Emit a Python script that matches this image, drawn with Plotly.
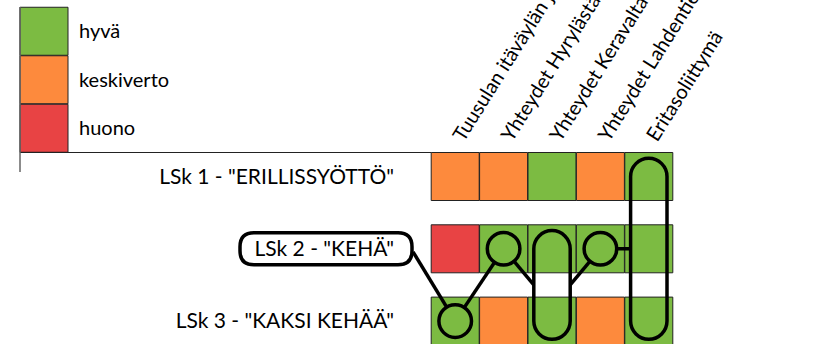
import plotly.graph_objects as go

W, H = 821, 344

# ---------------- data ----------------
ratings = ["hyvä", "keskiverto", "huono"]
rating_colors = ["#7CBB42", "#FD8A3D", "#E84344"]

columns = [
    "Tuusulan itäväylän jatke",
    "Yhteydet Hyrylästä",
    "Yhteydet Keravalta",
    "Yhteydet Lahdentieltä",
    "Eritasoliittymä",
]
rows = ['LSk 1 - "ERILLISSYÖTTÖ"', 'LSk 2 - "KEHÄ"', 'LSk 3 - "KAKSI KEHÄÄ"']

lsk1 = ["keskiverto", "keskiverto", "hyvä", "keskiverto", "hyvä"]
lsk2 = ["huono", "hyvä", "hyvä", "hyvä", "hyvä"]
lsk3 = ["hyvä", "keskiverto", "hyvä", "keskiverto", "hyvä"]
grid = [lsk1, lsk2, lsk3]

# selected path through the matrix: circles (col,row), pills (col,row_from,row_to)
circles = [(0, 2), (1, 1), (3, 1)]
pills = [(2, 1, 2), (4, 0, 2)]
highlight_row = 1

# ---------------- layout geometry ----------------
GX0, GX1 = 431, 673          # grid left/right in px
GTOP = 152.5                 # grid top in px
KX = (GX1 - GX0) / len(columns)
KY = 72.3                    # px per row
CELL = 48
ROW0 = GTOP + CELL / 2       # centre of first row in px

FONT = "Lato"
LW = 3.5
R_CIRC = 16.3
R_PILL = 18.2

color_of = dict(zip(ratings, rating_colors))


def px2paper_x(px):
    return px / W


def px2paper_y(py):
    return 1 - py / H


fig = go.Figure()

# matrix cells
xs, ys, cs = [], [], []
for j, row in enumerate(grid):
    for i, val in enumerate(row):
        xs.append(i)
        ys.append(j)
        cs.append(color_of[val])
fig.add_trace(go.Scatter(
    x=xs, y=ys, mode="markers", cliponaxis=False, hoverinfo="skip",
    marker=dict(symbol="square", size=CELL, color=cs,
                line=dict(color="#222222", width=1)),
    showlegend=False, xaxis="x", yaxis="y"))

# legend squares
fig.add_trace(go.Scatter(
    x=[0] * len(ratings), y=list(range(len(ratings))), mode="markers",
    cliponaxis=False, hoverinfo="skip",
    marker=dict(symbol="square", size=CELL, color=rating_colors,
                line=dict(color="#222222", width=1)),
    showlegend=False, xaxis="x2", yaxis="y2"))

shapes = []
# separator lines
shapes.append(dict(type="line", xref="paper", yref="paper",
                   x0=px2paper_x(20), x1=px2paper_x(GX0),
                   y0=px2paper_y(GTOP), y1=px2paper_y(GTOP),
                   line=dict(color="#222222", width=1.2)))
shapes.append(dict(type="line", xref="paper", yref="paper",
                   x0=px2paper_x(20), x1=px2paper_x(20),
                   y0=px2paper_y(7), y1=px2paper_y(172),
                   line=dict(color="#666666", width=1.5)))

blk = dict(color="black", width=LW)

# box around the highlighted row label (paper coordinates)
hy = ROW0 + highlight_row * KY
bx0, bx1 = 240, 412
by0, by1 = hy - 16, hy + 16
br = 14
X = px2paper_x
Y = px2paper_y
box = (f"M {X(bx0 + br)},{Y(by0)} L {X(bx1 - br)},{Y(by0)} "
       f"Q {X(bx1)},{Y(by0)} {X(bx1)},{Y(by0 + br)} "
       f"L {X(bx1)},{Y(by1 - br)} Q {X(bx1)},{Y(by1)} {X(bx1 - br)},{Y(by1)} "
       f"L {X(bx0 + br)},{Y(by1)} Q {X(bx0)},{Y(by1)} {X(bx0)},{Y(by1 - br)} "
       f"L {X(bx0)},{Y(by0 + br)} Q {X(bx0)},{Y(by0)} {X(bx0 + br)},{Y(by0)} Z")
shapes.append(dict(type="path", xref="paper", yref="paper", path=box, line=blk))

# connector from the label box to first circle
c0 = circles[0]
cx0 = GX0 + KX * (c0[0] + 0.5)
cy0 = ROW0 + KY * c0[1]
shapes.append(dict(type="line", xref="paper", yref="paper",
                   x0=X(bx1 + 1), y0=Y(hy + 3), x1=X(cx0), y1=Y(cy0), line=blk))

# connectors along the path
shapes.append(dict(type="line", xref="x", yref="y", x0=0, y0=2, x1=1, y1=1, line=blk))
shapes.append(dict(type="line", xref="x", yref="y", x0=1, y0=1,
                   x1=2 - R_PILL / KX, y1=1.5, line=blk))
shapes.append(dict(type="line", xref="x", yref="y", x0=2 + R_PILL / KX, y0=1.5,
                   x1=3, y1=1, line=blk))
shapes.append(dict(type="line", xref="x", yref="y", x0=3, y0=1,
                   x1=4 - R_PILL / KX, y1=1, line=blk))

# circles
for (ci, cj) in circles:
    shapes.append(dict(type="circle", xref="x", yref="y", xsizemode="pixel",
                       ysizemode="pixel", xanchor=ci, yanchor=cj,
                       x0=-R_CIRC, x1=R_CIRC, y0=-R_CIRC, y1=R_CIRC,
                       fillcolor=color_of[grid[cj][ci]], line=blk))

# pills
k = 0.5523
for (pi, a, b) in pills:
    r = R_PILL
    L = (b - a) * KY
    p = (f"M {-r},0 C {-r},{k*r} {-k*r},{r} 0,{r} C {k*r},{r} {r},{k*r} {r},0 "
         f"L {r},{-L} C {r},{-L-k*r} {k*r},{-L-r} 0,{-L-r} "
         f"C {-k*r},{-L-r} {-r},{-L-k*r} {-r},{-L} Z")
    shapes.append(dict(type="path", xref="x", yref="y", xsizemode="pixel",
                       ysizemode="pixel", xanchor=pi, yanchor=a, path=p, line=blk))

ytop = -(ROW0 - GTOP) / KY
ybot = (H - ROW0) / KY

fig.update_layout(
    width=W, height=H, autosize=False,
    margin=dict(l=0, r=0, t=0, b=0, pad=0, autoexpand=False),
    paper_bgcolor="white", plot_bgcolor="rgba(0,0,0,0)",
    font=dict(family=FONT, color="black"),
    showlegend=False,
    shapes=shapes,
    xaxis=dict(domain=[GX0 / W, GX1 / W], range=[-0.5, len(columns) - 0.5],
               tickvals=list(range(len(columns))), ticktext=columns,
               side="top", tickangle=-58, ticklabelstandoff=0,
               tickfont=dict(size=20, family=FONT), automargin=False,
               showgrid=False, zeroline=False, showline=False, ticks="",
               anchor="y", fixedrange=True),
    yaxis=dict(domain=[0, 1 - GTOP / H], range=[ybot, ytop],
               tickvals=list(range(len(rows))), ticktext=rows,
               ticklabelstandoff=36, tickfont=dict(size=21, family=FONT),
               automargin=False,
               showgrid=False, zeroline=False, showline=False, ticks="",
               anchor="x", fixedrange=True),
    xaxis2=dict(domain=[20 / W, 68 / W], range=[-0.5, 0.5], visible=False,
                anchor="y2", fixedrange=True, automargin=False),
    yaxis2=dict(domain=[1 - GTOP / H, 1 - 7 / H], range=[2.5, -0.5],
                tickvals=list(range(len(ratings))), ticktext=ratings,
                side="right", ticklabelstandoff=10,
                tickfont=dict(size=20, family=FONT), automargin=False,
                showgrid=False, zeroline=False, showline=False, ticks="",
                anchor="x2", fixedrange=True),
)

fig.write_html("out.html", config={"displayModeBar": False},
               post_script="document.body.style.margin='0';document.body.style.overflow='hidden';")
